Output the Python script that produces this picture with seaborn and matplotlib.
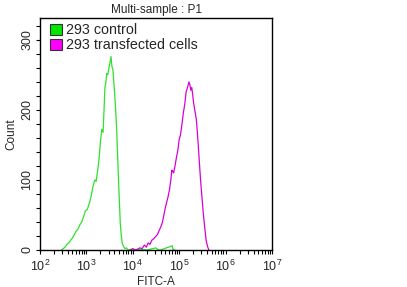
import numpy as np
import pandas as pd
import matplotlib
matplotlib.use('Agg')
import matplotlib.pyplot as plt
import seaborn as sns
from matplotlib.patches import Patch
from matplotlib.ticker import MultipleLocator, LogLocator

# 直方图数据（log10 荧光强度 -> 计数）
ctrl_log = [2.46, 2.50, 2.54, 2.58, 2.62, 2.66, 2.70, 2.74, 2.78, 2.82, 2.86, 2.90,
            2.94, 2.98, 3.02, 3.06, 3.10, 3.14, 3.18, 3.21, 3.24, 3.27, 3.30, 3.33,
            3.36, 3.38, 3.40, 3.42, 3.44, 3.46, 3.48, 3.51, 3.53, 3.55, 3.57, 3.59,
            3.61, 3.63, 3.65, 3.67, 3.69, 3.71, 3.73, 3.75, 3.77, 3.80, 3.83, 3.86,
            3.90, 3.95, 4.00, 4.20, 4.30, 4.50, 4.55, 4.60, 4.85, 4.87, 4.90]
ctrl_count = [0, 2, 4, 8, 10, 14, 17, 22, 27, 30, 36, 40,
              48, 56, 58, 66, 76, 90, 100, 98, 112, 128, 152, 172,
              168, 200, 232, 240, 252, 250, 258, 268, 276, 262, 258, 240,
              222, 200, 175, 140, 104, 70, 38, 22, 10, 5, 2, 3,
              0, 1, 0, 1, 0, 3, 0, 0, 6, 0, 0]

trans_log = [3.95, 4.00, 4.05, 4.10, 4.15, 4.20, 4.25, 4.29, 4.33, 4.37, 4.41, 4.45,
             4.49, 4.53, 4.57, 4.61, 4.64, 4.67, 4.70, 4.73, 4.76, 4.79, 4.82, 4.84,
             4.86, 4.88, 4.91, 4.94, 4.97, 5.00, 5.03, 5.06, 5.09, 5.12, 5.15, 5.18,
             5.21, 5.23, 5.25, 5.27, 5.29, 5.31, 5.34, 5.37, 5.40, 5.43, 5.46, 5.49,
             5.52, 5.55, 5.58, 5.61, 5.64]
trans_count = [0, 2, 0, 1, 3, 2, 7, 4, 10, 8, 14, 16,
               19, 22, 28, 34, 40, 50, 60, 68, 76, 86, 100, 114,
               112, 110, 120, 132, 142, 158, 165, 180, 196, 208, 226, 232,
               240, 236, 228, 232, 222, 210, 198, 186, 160, 130, 100, 76,
               52, 32, 14, 5, 0]

labels = ['293 control', '293 transfected cells']
line_colors = ['#2fe02f', '#d800d8']
patch_colors = ['#00e600', '#ff00ff']

sns.set_style('ticks')
plt.rcParams['font.family'] = ['Liberation Sans', 'DejaVu Sans']
plt.rcParams['mathtext.default'] = 'regular'

df = pd.concat([
    pd.DataFrame({'FITC-A': np.power(10.0, ctrl_log), 'Count': ctrl_count, 'sample': labels[0]}),
    pd.DataFrame({'FITC-A': np.power(10.0, trans_log), 'Count': trans_count, 'sample': labels[1]}),
])

fig = plt.figure(figsize=(4.07, 2.87), dpi=100)
ax = fig.add_axes([0.0983, 0.129, 0.570, 0.808])

sns.lineplot(data=df, x='FITC-A', y='Count', hue='sample', palette=line_colors,
             linewidth=0.9, ax=ax, legend=False, sort=False, estimator=None)

ax.set_xscale('log')
ax.set_xlim(1e2, 1e7)
ax.set_ylim(0, 331)
ax.xaxis.set_major_locator(LogLocator(base=10, numticks=10))
ax.xaxis.set_minor_locator(LogLocator(base=10, subs=np.arange(2, 10), numticks=20))
ax.yaxis.set_major_locator(MultipleLocator(100))
ax.yaxis.set_minor_locator(MultipleLocator(20))
ax.tick_params(axis='both', which='both', direction='out', length=3, width=0.8,
               color='black', labelsize=9)
ax.tick_params(axis='x', which='major', pad=3)
ax.tick_params(axis='y', which='major', pad=2)
plt.setp(ax.get_yticklabels(), rotation=90, va='center')

for s in ax.spines.values():
    s.set_visible(True)
    s.set_color('black')
    s.set_linewidth(1.0)

ax.set_xlabel('FITC-A', fontsize=8.5, labelpad=2)
ax.set_ylabel('Count', fontsize=8.5, labelpad=3)
ax.set_title('Multi-sample : P1', fontsize=8.5, pad=4)

handles = [Patch(facecolor=c, edgecolor='#333333', linewidth=0.8) for c in patch_colors]
ax.legend(handles, labels, loc='upper left', bbox_to_anchor=(0.0, 1.02), frameon=False,
          fontsize=10.3, handlelength=0.85, handleheight=0.85, handletextpad=0.3,
          labelspacing=0.05, borderaxespad=0.3)

fig.savefig('out.png', dpi=100)
